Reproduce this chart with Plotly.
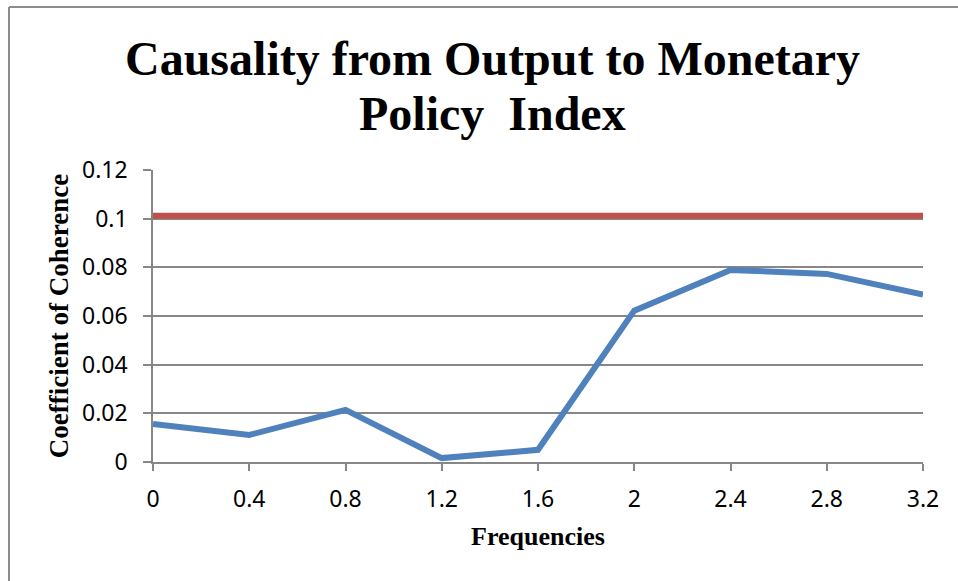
import plotly.graph_objects as go

# Frequencies (category positions along the x axis)
frequencies = ["0", "0.4", "0.8", "1.2", "1.6", "2", "2.4", "2.8", "3.2"]
# Coefficient of coherence at each frequency
coherence = [0.0156, 0.0111, 0.0214, 0.0016, 0.0050, 0.0622, 0.0789, 0.0773, 0.0688]
# Critical value line
critical = [0.1012] * len(frequencies)

y_ticks = [0, 0.02, 0.04, 0.06, 0.08, 0.1, 0.12]
y_tick_text = ["0", "0.02", "0.04", "0.06", "0.08", "0.1", "0.12"]

title_lines = ["Causality from Output to Monetary", "Policy  Index"]

W, H = 958, 581
L, R, T, B = 153, 35, 170, 119
pw, ph = W - L - R, H - T - B

fig = go.Figure()
fig.add_trace(go.Scatter(x=frequencies, y=critical, mode="lines",
                         line=dict(color="#C0504D", width=6), showlegend=False))
fig.add_trace(go.Scatter(x=frequencies, y=coherence, mode="lines",
                         line=dict(color="#4F81BD", width=6), showlegend=False))

grid = "#878787"
fig.update_layout(
    width=W, height=H,
    margin=dict(l=L, r=R, t=T, b=B),
    paper_bgcolor="white", plot_bgcolor="white",
    xaxis=dict(type="category", range=[0, len(frequencies) - 1],
               showgrid=False, showline=True, linecolor=grid, linewidth=1.5,
               ticks="outside", ticklen=7, tickcolor=grid, tickwidth=1.5,
               ticklabelstandoff=9,
               tickfont=dict(family="Noto Sans", size=23, color="black"),
               title=dict(text="<b>Frequencies</b>", standoff=13,
                          font=dict(family="Liberation Serif", size=26, color="black")),
               zeroline=False),
    yaxis=dict(range=[0, 0.12], tickvals=y_ticks, ticktext=y_tick_text,
               showgrid=True, gridcolor=grid, gridwidth=1.5,
               showline=True, linecolor=grid, linewidth=1.5,
               ticks="outside", ticklen=8, tickcolor=grid, tickwidth=1.5,
               ticklabelstandoff=11,
               tickfont=dict(family="Noto Sans", size=23, color="black"),
               title=dict(text="<b>Coefficient of Coherence</b>", standoff=6,
                          font=dict(family="Liberation Serif", size=27, color="black")),
               zeroline=False),
)

# Two-line chart title, each line placed on its own
for text, yc in zip(title_lines, [58, 113]):
    fig.add_annotation(text=f"<b>{text}</b>", showarrow=False,
                       xref="paper", yref="paper",
                       x=(492 - L) / pw, xanchor="center",
                       y=(H - B - yc) / ph, yanchor="middle",
                       font=dict(family="Liberation Serif", size=48, color="black"))

# Chart frame: left and top edges
fx = (9 - L) / pw
fy = (H - B - 7) / ph
fig.add_shape(type="line", xref="paper", yref="paper", x0=fx, x1=fx, y0=fy, y1=-(B + 5) / ph,
              line=dict(color="#8c8c8c", width=2))
fig.add_shape(type="line", xref="paper", yref="paper", x0=fx, x1=(W + 5 - L) / pw, y0=fy, y1=fy,
              line=dict(color="#8c8c8c", width=2))

fig.write_html("out.html")
